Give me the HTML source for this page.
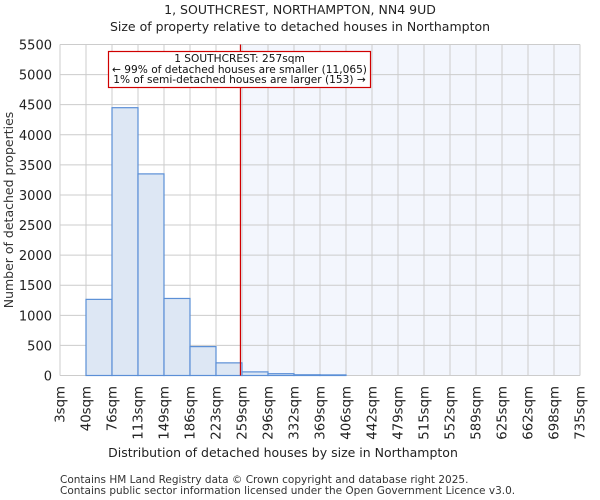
<!DOCTYPE html>
<html><head><meta charset="utf-8"><style>
body{margin:0;background:#fff}
svg{display:block;font-family:"DejaVu Sans","Liberation Sans",sans-serif}
</style></head><body>
<svg id="c" width="600" height="500"></svg>
<script>
const binEdges=["3sqm","40sqm","76sqm","113sqm","149sqm","186sqm","223sqm","259sqm","296sqm","332sqm","369sqm","406sqm","442sqm","479sqm","515sqm","552sqm","589sqm","625sqm","662sqm","698sqm","735sqm"];
const counts=[0,1265,4450,3350,1280,480,210,60,30,12,10,0,0,0,0,0,0,0,0,0];
const yTicks=[0,500,1000,1500,2000,2500,3000,3500,4000,4500,5000,5500];
const edgeMin=3, edgeMax=735, markerValue=257;
const svg=document.getElementById('c');
const NS='http://www.w3.org/2000/svg';
const L=60,R=580,T=44.5,B=375.5,YMAX=5500;
const nb=counts.length;
const xb=i=>L+(R-L)*i/nb;
const xv=v=>L+(R-L)*(v-edgeMin)/(edgeMax-edgeMin);
const y=v=>B-(B-T)*v/YMAX;
function mk(t,a,txt){const e=document.createElementNS(NS,t);for(const k in a)e.setAttribute(k,a[k]);if(txt!=null)e.textContent=txt;svg.appendChild(e);return e;}
const mx=xv(markerValue);
let e=mk('rect',{x:mx,y:T,width:R-mx,height:B-T,fill:'#f3f6fd'});


for(let i=0;i<=nb;i++){e=mk('line',{x1:xb(i),x2:xb(i),y1:T,y2:B,stroke:'#cccccc','stroke-width':1});

}
yTicks.forEach(v=>{e=mk('line',{x1:L,x2:R,y1:y(v),y2:y(v),stroke:'#cccccc','stroke-width':1});


e=mk('text',{x:L-8,y:y(v)+5,'text-anchor':'end','font-size':13,fill:'#222'},v);

});
counts.forEach((c,i)=>{if(c<=0)return;e=mk('rect',{x:xb(i),y:y(c),width:xb(i+1)-xb(i),height:B-y(c),fill:'#dde7f4',stroke:'#5b8fd6','stroke-width':1.2});

});
binEdges.forEach((s,i)=>{const x=xb(i)+4.5;e=mk('text',{x:0,y:0,transform:`translate(${x},386) rotate(-90)`,'text-anchor':'end','font-size':13.3,fill:'#222'},s);

});
e=mk('line',{x1:mx,x2:mx,y1:T,y2:B,stroke:'#d00000','stroke-width':1.2});


e=mk('rect',{x:108.5,y:51.5,width:262,height:36,fill:'#fff',stroke:'#d00000','stroke-width':1.2});


[["1 SOUTHCREST: 257sqm",62],["← 99% of detached houses are smaller (11,065)",73],["1% of semi-detached houses are larger (153) →",83]].forEach(([t,yy])=>{e=mk('text',{x:239.5,y:yy,'text-anchor':'middle','font-size':10.6,fill:'#111'},t);

});
e=mk('text',{x:300,y:14,'text-anchor':'middle','font-size':12.5,fill:'#222'},'1, SOUTHCREST, NORTHAMPTON, NN4 9UD');


e=mk('text',{x:300,y:31,'text-anchor':'middle','font-size':12.5,fill:'#222'},'Size of property relative to detached houses in Northampton');


e=mk('text',{x:0,y:0,transform:'translate(13,210) rotate(-90)','text-anchor':'middle','font-size':12.5,fill:'#333'},'Number of detached properties');


e=mk('text',{x:283,y:457,'text-anchor':'middle','font-size':12.5,fill:'#222'},'Distribution of detached houses by size in Northampton');


e=mk('text',{x:60,y:483,'font-size':10.5,fill:'#333'},'Contains HM Land Registry data © Crown copyright and database right 2025.');


e=mk('text',{x:60,y:494,'font-size':10.5,fill:'#333'},'Contains public sector information licensed under the Open Government Licence v3.0.');


</script>
</body></html>
